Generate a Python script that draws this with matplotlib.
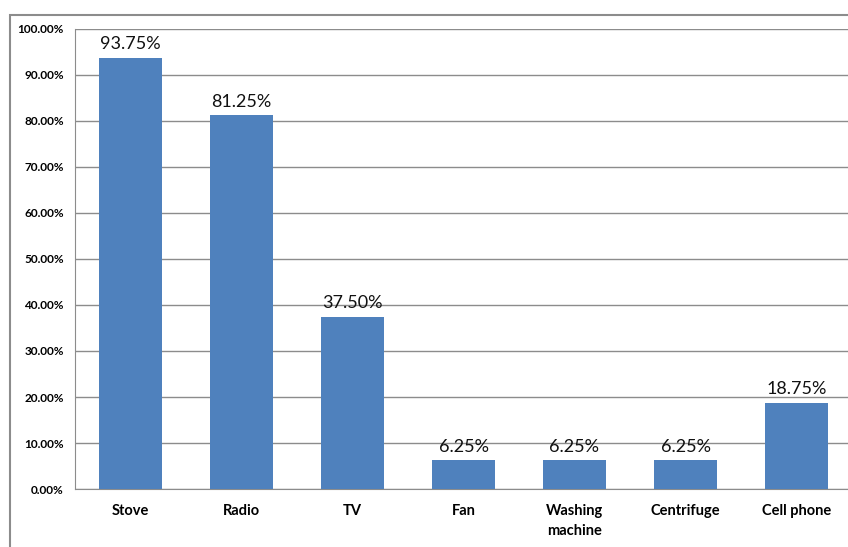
import matplotlib
matplotlib.use("Agg")
import matplotlib.pyplot as plt
from matplotlib.patches import Rectangle

plt.rcParams['font.family'] = ['Lato', 'DejaVu Sans']

categories = ["Stove", "Radio", "TV", "Fan", "Washing\nmachine", "Centrifuge", "Cell phone"]
values = [93.75, 81.25, 37.50, 6.25, 6.25, 6.25, 18.75]
yticks = [0, 10, 20, 30, 40, 50, 60, 70, 80, 90, 100]

fig = plt.figure(figsize=(8.48, 5.47), dpi=100)

# outer chart border (cut off on right and bottom)
fig.patches.append(Rectangle((10/848, -0.05), 1.1, 1 - 15/547 + 0.05,
                             transform=fig.transFigure, fill=False,
                             edgecolor="#8c8c8c", linewidth=1.5, zorder=0))

ax = fig.add_axes([75/848, 1 - 489/547, 777/848, 460/547])
x = list(range(len(categories)))
bars = ax.bar(x, values, width=0.57, color="#4F81BD", zorder=3)

for xi, v in zip(x, values):
    ax.annotate(f"{v:.2f}%", (xi, v), xytext=(0, 4), textcoords="offset points",
                ha="center", va="bottom", fontsize=13, color="#111111", zorder=4)

ax.set_xlim(-0.5, len(categories) - 0.5)
ax.set_ylim(0, 100)
ax.set_yticks(yticks)
ax.set_yticklabels([f"{t:.2f}%" for t in yticks], fontsize=8.5, fontweight="bold")
ax.set_xticks(x)
ax.set_xticklabels(categories, fontsize=10.5, fontweight="bold", linespacing=1.5)
ax.tick_params(axis="both", length=0, pad=8)
ax.tick_params(axis="x", pad=11)
ax.yaxis.grid(True, color="#8c8c8c", linewidth=1, zorder=0)
ax.set_axisbelow(True)

for side in ["top", "right"]:
    ax.spines[side].set_visible(False)
ax.spines["left"].set_color("#8c8c8c")
ax.spines["bottom"].set_color("#8c8c8c")

fig.savefig("out.png", dpi=100)
